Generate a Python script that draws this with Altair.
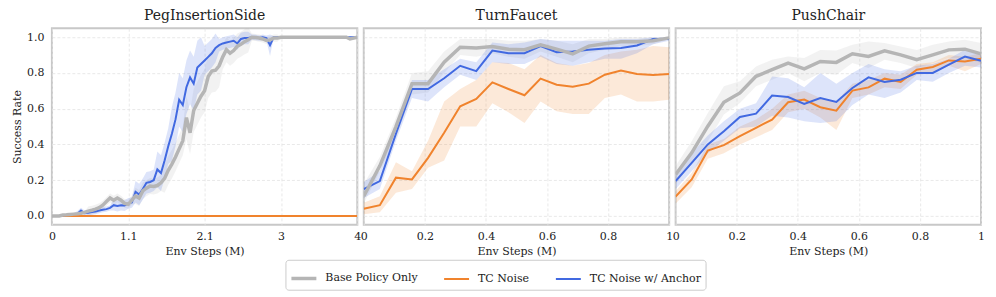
import altair as alt
import pandas as pd

SERIES = ["Base Policy Only", "TC Noise", "TC Noise w/ Anchor"]
COLORS = ["#b5b5b5", "#f0832d", "#4169e1"]
WIDTHS = [3.5, 2.0, 2.0]
FONT = "DejaVu Serif"

# ---------------- PegInsertionSide (x in M steps, 0.05 grid) ----------------
peg_x = [round(0.05 * k, 2) for k in range(85)]
peg_ticks = [0, 1.05, 2.1, 3.15, 4.2]
peg_tick_labels = ["0", "1.1", "2.1", "3", "4"]

peg_base = [0.00, 0.00, 0.00, 0.005, 0.006, 0.008, 0.010, 0.012, 0.015, 0.020,
            0.027, 0.032, 0.038, 0.046, 0.060, 0.080, 0.100, 0.088, 0.100, 0.088,
            0.070, 0.065, 0.088, 0.112, 0.100, 0.140, 0.155, 0.167, 0.165, 0.170,
            0.185, 0.210, 0.255, 0.290, 0.330, 0.375, 0.420, 0.550, 0.465, 0.590,
            0.630, 0.670, 0.700, 0.780, 0.810, 0.815, 0.840, 0.890, 0.930, 0.910,
            0.925, 0.950, 0.960, 0.975, 0.985, 1.000, 0.998, 0.995, 0.990, 0.982,
            0.985, 0.995, 0.995, 1.0, 1.0, 1.0, 1.0, 1.0, 1.0, 1.0,
            1.0, 1.0, 1.0, 1.0, 1.0, 1.0, 1.0, 1.0, 1.0, 1.0,
            1.0, 1.0, 0.990, 0.995, 1.0]
peg_base_std = [0.005] * 10 + [0.025] * 13 + [0.045] * 8 + [0.08] * 6 + [0.12] * 10 + \
               [0.07] * 8 + [0.02] * 8 + [0.005] * 22
peg_tc = [0.0] * 85
peg_tc_std = [0.0] * 85
peg_anchor = [0.00, 0.00, 0.00, 0.003, 0.005, 0.008, 0.010, 0.012, 0.030, 0.015,
              0.018, 0.022, 0.025, 0.030, 0.035, 0.038, 0.045, 0.060, 0.055, 0.060,
              0.058, 0.070, 0.075, 0.135, 0.120, 0.150, 0.185, 0.190, 0.200, 0.260,
              0.240, 0.310, 0.390, 0.460, 0.540, 0.650, 0.620, 0.720, 0.775, 0.740,
              0.830, 0.850, 0.870, 0.890, 0.910, 0.940, 0.955, 0.965, 0.970, 0.975,
              0.980, 0.965, 0.990, 0.995, 0.995, 1.000, 0.998, 0.995, 1.000, 0.995,
              0.955, 1.0, 1.0, 1.0, 1.0, 1.0, 1.0, 1.0, 1.0, 1.0,
              1.0, 1.0, 1.0, 1.0, 1.0, 1.0, 1.0, 1.0, 1.0, 1.0,
              1.0, 1.0, 1.0, 1.0, 1.0]
peg_anchor_std = [0.005] * 7 + [0.015] * 10 + [0.03] * 6 + [0.06] * 6 + [0.10] * 4 + \
                 [0.15] * 9 + [0.08] * 4 + [0.035] * 9 + [0.015] * 5 + [0.06] + [0.005] * 24

# ---------------- TurnFaucet (20 evals over 1M) ----------------
short_x = [round(i / 19, 4) for i in range(20)]
short_ticks = [0, 0.2, 0.4, 0.6, 0.8, 1.0]

tf_base = [0.11, 0.28, 0.50, 0.74, 0.74, 0.86, 0.944, 0.94, 0.948, 0.933,
           0.93, 0.957, 0.933, 0.907, 0.95, 0.963, 0.974, 0.974, 0.98, 0.996]
tf_base_lo = [0.07, 0.25, 0.44, 0.68, 0.69, 0.80, 0.90, 0.89, 0.91, 0.89,
              0.88, 0.92, 0.89, 0.86, 0.91, 0.93, 0.95, 0.95, 0.96, 0.99]
tf_base_hi = [0.18, 0.33, 0.55, 0.80, 0.81, 0.92, 0.99, 0.99, 0.99, 0.98,
              0.98, 0.99, 0.98, 0.96, 0.99, 0.99, 1.0, 1.0, 1.0, 1.0]
tf_tc = [0.04, 0.06, 0.214, 0.204, 0.325, 0.465, 0.613, 0.654, 0.747, 0.71,
         0.675, 0.768, 0.734, 0.723, 0.74, 0.79, 0.814, 0.794, 0.788, 0.794]
tf_tc_lo = [0.01, 0.02, 0.13, 0.15, 0.27, 0.31, 0.50, 0.50, 0.63, 0.58,
            0.52, 0.64, 0.585, 0.57, 0.57, 0.66, 0.68, 0.64, 0.64, 0.65]
tf_tc_hi = [0.074, 0.11, 0.30, 0.25, 0.42, 0.64, 0.71, 0.76, 0.86, 0.855,
            0.82, 0.90, 0.855, 0.84, 0.855, 0.90, 0.92, 0.93, 0.95, 0.944]
tf_anchor = [0.15, 0.195, 0.46, 0.71, 0.71, 0.77, 0.84, 0.81, 0.925, 0.91,
             0.91, 0.95, 0.916, 0.92, 0.93, 0.937, 0.94, 0.954, 0.99, 0.99]
tf_anchor_lo = [0.10, 0.15, 0.42, 0.66, 0.64, 0.72, 0.79, 0.76, 0.86, 0.85,
                0.85, 0.89, 0.85, 0.84, 0.86, 0.88, 0.88, 0.91, 0.96, 0.98]
tf_anchor_hi = [0.19, 0.25, 0.50, 0.76, 0.76, 0.82, 0.88, 0.86, 0.97, 0.96,
                0.97, 0.99, 0.98, 0.98, 0.98, 0.98, 0.99, 0.99, 1.0, 1.0]

# ---------------- PushChair ----------------
pc_base = [0.232, 0.353, 0.502, 0.636, 0.688, 0.781, 0.818, 0.855, 0.823, 0.864,
           0.859, 0.907, 0.892, 0.924, 0.901, 0.874, 0.901, 0.929, 0.933, 0.907]
pc_base_lo = [0.177, 0.297, 0.418, 0.567, 0.632, 0.725, 0.762, 0.80, 0.753, 0.80,
              0.79, 0.855, 0.827, 0.874, 0.855, 0.827, 0.855, 0.883, 0.883, 0.855]
pc_base_hi = [0.279, 0.418, 0.576, 0.725, 0.753, 0.836, 0.874, 0.892, 0.883, 0.929,
              0.926, 0.957, 0.976, 0.967, 0.948, 0.929, 0.957, 0.976, 0.985, 0.967]
pc_tc = [0.108, 0.204, 0.366, 0.396, 0.446, 0.493, 0.539, 0.636, 0.651, 0.608,
         0.589, 0.701, 0.719, 0.768, 0.749, 0.818, 0.833, 0.87, 0.864, 0.879]
pc_tc_lo = [0.07, 0.16, 0.32, 0.35, 0.40, 0.44, 0.48, 0.58, 0.60, 0.55,
            0.48, 0.66, 0.68, 0.72, 0.71, 0.79, 0.80, 0.84, 0.81, 0.85]
pc_tc_hi = [0.14, 0.24, 0.40, 0.43, 0.50, 0.54, 0.60, 0.68, 0.70, 0.66,
            0.64, 0.74, 0.76, 0.80, 0.79, 0.85, 0.86, 0.90, 0.89, 0.91]
pc_anchor = [0.195, 0.297, 0.40, 0.474, 0.554, 0.572, 0.673, 0.665, 0.626, 0.66,
             0.638, 0.716, 0.775, 0.749, 0.762, 0.80, 0.80, 0.846, 0.892, 0.868]
pc_anchor_lo = [0.15, 0.25, 0.35, 0.42, 0.49, 0.50, 0.56, 0.55, 0.53, 0.52,
                0.53, 0.62, 0.68, 0.66, 0.69, 0.76, 0.75, 0.80, 0.84, 0.83]
pc_anchor_hi = [0.24, 0.35, 0.45, 0.53, 0.60, 0.63, 0.78, 0.77, 0.72, 0.80,
                0.74, 0.80, 0.85, 0.82, 0.81, 0.84, 0.85, 0.88, 0.93, 0.90]


def table_std(xs, ys_list, std_list):
    rows = []
    for s, ys, sd in zip(SERIES, ys_list, std_list):
        for x, y, d in zip(xs, ys, sd):
            rows.append({"series": s, "x": x, "y": y, "lo": y - d, "hi": y + d})
    return pd.DataFrame(rows)


def table_band(xs, ys_list, lo_list, hi_list):
    rows = []
    for s, ys, lo, hi in zip(SERIES, ys_list, lo_list, hi_list):
        for x, y, a, b in zip(xs, ys, lo, hi):
            rows.append({"series": s, "x": x, "y": y, "lo": a, "hi": b})
    return pd.DataFrame(rows)


peg_df = table_std(peg_x, [peg_base, peg_tc, peg_anchor],
                   [peg_base_std, peg_tc_std, peg_anchor_std])
tf_df = table_band(short_x, [tf_base, tf_tc, tf_anchor],
                   [tf_base_lo, tf_tc_lo, tf_anchor_lo], [tf_base_hi, tf_tc_hi, tf_anchor_hi])
pc_df = table_band(short_x, [pc_base, pc_tc, pc_anchor],
                   [pc_base_lo, pc_tc_lo, pc_anchor_lo], [pc_base_hi, pc_tc_hi, pc_anchor_hi])

legend = alt.Legend(
    orient="none", legendX=234, legendY=232, direction="horizontal", columns=3,
    title=None, symbolType="stroke", symbolSize=625, labelFont=FONT, labelFontSize=11,
    labelColor="#222222", strokeColor="#cccccc", fillColor="white", padding=4,
    cornerRadius=3, columnPadding=22, labelLimit=0, symbolOffset=0, labelOffset=7,
)


def make_panel(df, title, xdom, xticks, label_expr, show_y):
    xenc = alt.X("x:Q", scale=alt.Scale(domain=xdom, nice=False, zero=False),
                 axis=alt.Axis(values=xticks, labelExpr=label_expr, title="Env Steps (M)",
                               labelFlush=False, labelOverlap=False, grid=True))
    yaxis = alt.Axis(values=[0, 0.2, 0.4, 0.6, 0.8, 1.0], format=".1f",
                     title="Success Rate" if show_y else None, labels=show_y, grid=True)
    yscale = alt.Scale(domain=[-0.05, 1.05], nice=False, zero=False)
    base = alt.Chart(df)
    layers = []
    for s, c in zip(SERIES, COLORS):
        layers.append(
            base.transform_filter(alt.datum.series == s)
            .mark_area(opacity=0.18, color=c, clip=True)
            .encode(x=xenc, y=alt.Y("lo:Q", scale=yscale, axis=yaxis), y2="hi:Q")
        )
    for s in [SERIES[1], SERIES[2], SERIES[0]]:
        layers.append(
            base.transform_filter(alt.datum.series == s)
            .mark_line(clip=True)
            .encode(
                x=xenc,
                y=alt.Y("y:Q", scale=yscale, axis=yaxis),
                color=alt.Color("series:N", scale=alt.Scale(domain=SERIES, range=COLORS),
                                legend=legend),
                strokeWidth=alt.StrokeWidth("series:N",
                                            scale=alt.Scale(type="ordinal", domain=SERIES, range=WIDTHS),
                                            legend=legend),
            )
        )
    return alt.layer(*layers).properties(width=306, height=197, title=title)


peg_expr = " : ".join(
    f"abs(datum.value - {v}) < 1e-6 ? '{l}'" for v, l in zip(peg_ticks, peg_tick_labels)
) + " : ''"
short_expr = "datum.value == 0 ? '0' : datum.value == 1 ? '1' : format(datum.value, '.1f')"

p1 = make_panel(peg_df, "PegInsertionSide", [0, 4.2], peg_ticks, peg_expr, True)
p2 = make_panel(tf_df, "TurnFaucet", [0, 1], short_ticks, short_expr, False)
p3 = make_panel(pc_df, "PushChair", [0, 1], short_ticks, short_expr, False)

chart = (
    alt.hconcat(p1, p2, p3, spacing=6.5, bounds="flush")
    .properties(padding={"left": 2, "top": 0, "right": 2, "bottom": 2})
    .configure_view(stroke="#c8c8c8", strokeWidth=2)
    .configure_axis(domain=False, ticks=False, gridColor="#e3e3e3", gridDash=[3, 2],
                    gridWidth=0.8, labelFont=FONT, labelFontSize=11, labelColor="#222222",
                    titleFont=FONT, titleFontSize=11, titleFontWeight="normal",
                    titleColor="#222222", titlePadding=4)
    .configure_axisX(labelPadding=6)
    .configure_axisY(labelPadding=8)
    .configure_title(font=FONT, fontSize=14, fontWeight="normal", offset=5, color="#222222")
)

chart.save("out.html", embed_options={"renderer": "svg", "actions": False})
